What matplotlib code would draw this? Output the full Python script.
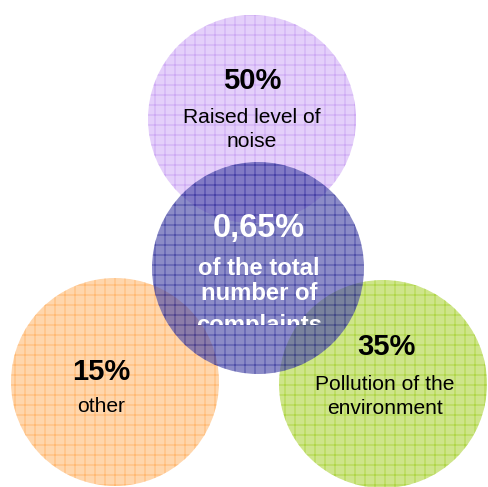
import matplotlib
matplotlib.use("Agg")
import matplotlib.pyplot as plt
from matplotlib.patches import Circle
from matplotlib.transforms import Bbox, TransformedBbox

plt.rcParams['font.family'] = ['Liberation Sans', 'DejaVu Sans']
plt.rcParams['hatch.linewidth'] = 0.5

# data
shares = ['15%', '35%', '50%']
labels = [['other'], ['Pollution of the', 'environment'], ['Raised level of', 'noise']]
total_share = '0,65%'
total_label = ['of the total', 'number of', 'complaints']

# layout (pixels, y down)
centers = [(115, 382), (383, 384), (252, 119)]
radius = 104
face_cols = ['#FFD6AC', '#CEE58A', '#E4CFFA']
grid_cols = ['#FFB468', '#A9D23A', '#C9A2F2']
share_pos = [(101, 380), (386, 355), (252, 89)]
label_pos = [(101, 412), (385, 390), (252, 123)]
line_step = 24

fig = plt.figure(figsize=(488 / 120, 487 / 120), dpi=120)
ax = fig.add_axes([0, 0, 1, 1])
ax.set_xlim(0, 488)
ax.set_ylim(487, 0)
ax.axis('off')

for (cx, cy), fc, gc in zip(centers, face_cols, grid_cols):
    ax.add_patch(Circle((cx, cy), radius, facecolor=fc, edgecolor=gc,
                        hatch='++', linewidth=0, zorder=1))

# centre circle, semi transparent on top
ax.add_patch(Circle((258, 268), 106, facecolor='#4A4AA8', edgecolor='#1A1A8C',
                    hatch='++', linewidth=0, alpha=0.64, zorder=2))

for s, (x, y) in zip(shares, share_pos):
    ax.text(x, y, s, ha='center', va='baseline', fontsize=17.5,
            fontweight='bold', color='black', zorder=5)
for lines, (x, y) in zip(labels, label_pos):
    for i, line in enumerate(lines):
        ax.text(x, y + i * line_step, line, ha='center', va='baseline',
                fontsize=12.6, color='black', zorder=5)

ax.text(259, 237, total_share, ha='center', va='baseline', fontsize=19.5,
        fontweight='bold', color='white', zorder=5)
clip = TransformedBbox(Bbox([[0, 0], [488, 325]]), ax.transData)
for line, y in zip(total_label, [275, 300, 332]):
    t = ax.text(259, y, line, ha='center', va='baseline', fontsize=14.3,
                fontweight='bold', color='white', zorder=5, clip_on=True)
    t.set_clip_box(clip)
    t.set_clip_path(None)

fig.savefig('out.png', dpi=120)
